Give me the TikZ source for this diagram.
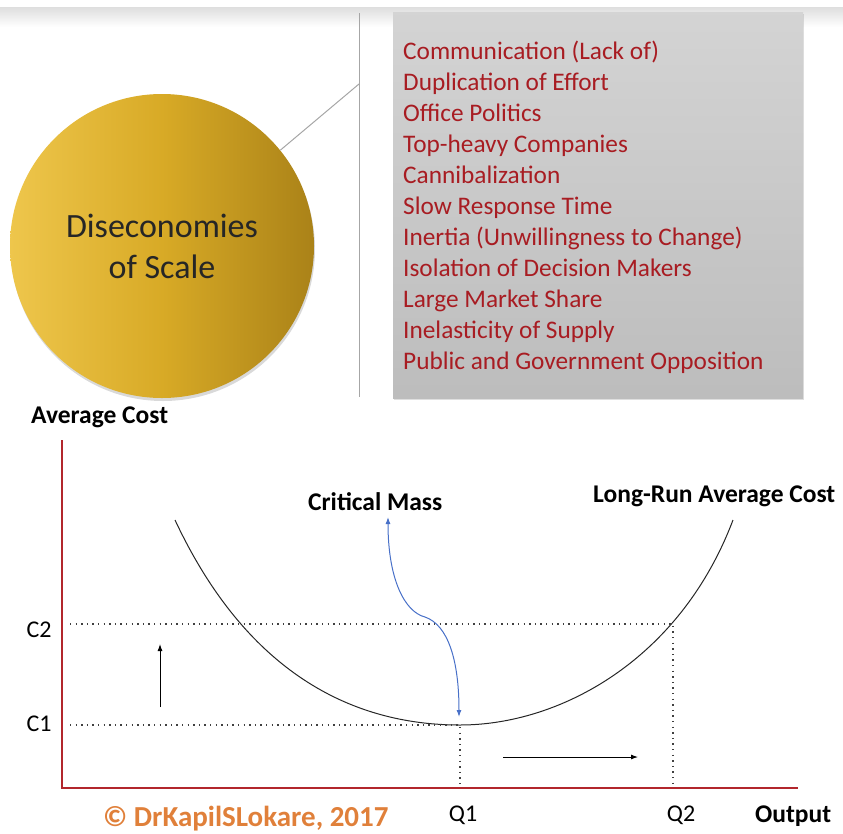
\documentclass[tikz,border=0pt]{standalone}
\usepackage{fontspec}
\setmainfont{Carlito}
\usetikzlibrary{arrows.meta,shadows}
\definecolor{causered}{RGB}{168,28,34}
\definecolor{axisred}{RGB}{178,38,44}
\definecolor{critblue}{RGB}{72,112,200}
\definecolor{signorange}{RGB}{224,128,58}
\definecolor{goldlight}{RGB}{238,198,76}
\definecolor{goldmid}{RGB}{216,170,38}
\definecolor{golddark}{RGB}{170,130,24}
\begin{document}
\begin{tikzpicture}[x=1pt,y=-1pt,
	disc/.style={circle,minimum size=304pt,inner sep=0pt,align=center,text=black!85,
		left color=goldlight,right color=golddark,middle color=goldmid,
		drop shadow={shadow xshift=1pt,shadow yshift=-3pt,opacity=0.3},
		font=\fontsize{34}{41}\selectfont},
	causebox/.style={rectangle,minimum width=410pt,minimum height=386pt,inner sep=0pt,
		top color=black!17,bottom color=black!26,
		drop shadow={shadow xshift=1pt,shadow yshift=-2pt,opacity=0.25}},
	listitem/.style={anchor=base west,inner sep=0pt,text=causered,font=\fontsize{25.3}{30}\selectfont},
	axislabel/.style={inner sep=0pt,font=\bfseries\fontsize{25.5}{29}\selectfont},
	ticklabel/.style={inner sep=0pt,font=\fontsize{24}{28}\selectfont},
	divider/.style={line width=1pt,black!35},
	guide/.style={line width=1.4pt,dash pattern=on 1.3pt off 4.3pt,black!75},
	axisline/.style={line width=2pt,axisred},
	trend/.style={line width=0.9pt,-{Latex[length=7pt,width=5pt]}}]
	\useasboundingbox (0,0) rectangle (843,833);
	% top band
	\shade[top color=black!13,bottom color=white] (0,7) rectangle (843,27);
	% divider and causes
	\coordinate (dtop) at (359,13);
	\coordinate (dbot) at (359,397);
	\coordinate (split) at (359,84);
	\draw[divider] (dtop) -- (dbot);
	\node[causebox] (causes) at (598,205) {};
	\foreach \txt [count=\i] in {Communication (Lack of),Duplication of Effort,Office Politics,
		Top-heavy Companies,Cannibalization,Slow Response Time,Inertia (Unwillingness to Change),
		Isolation of Decision Makers,Large Market Share,Inelasticity of Supply,
		Public and Government Opposition}
	\node[listitem] (cause\i) at (403,28+31*\i) {\txt};
	% circle
	\node[disc] (disc) at (162,246) {Diseconomies\\of Scale};
	\draw[divider] (disc.39) -- (split);
	% axis
	\coordinate (ytop) at (62,440);
	\coordinate (origin) at (62,788);
	\coordinate (xend) at (798,788);
	\draw[axisline] (ytop) -- (origin) -- (xend);
	\node[axislabel,anchor=base west] (avgcost) at (31,423) {Average Cost};
	\node[axislabel,anchor=base west] (output) at (755,822) {Output};
	% curve
	\coordinate (lrtop) at (175,520);
	\coordinate (lrmin) at (460,725);
	\coordinate (lrend) at (733,520);
	\draw[line width=1pt,black!85] (lrtop) .. controls (250,680) and (360,725) .. (lrmin)
		.. controls (560,725) and (680,660) .. (lrend);
	\node[axislabel,anchor=base west] (lrac) at (593,502) {Long-Run Average Cost};
	% levels
	\coordinate (c2a) at (70,624);
	\coordinate (c2b) at (673,624);
	\coordinate (c1a) at (70,725);
	\coordinate (q1) at (460,787);
	\coordinate (q2) at (673,787);
	\draw[guide] (c2a) -- (c2b) -- (q2);
	\draw[guide] (c1a) -- (lrmin) -- (q1);
	\node[ticklabel,anchor=base] (c2) at (39,637) {C2};
	\node[ticklabel,anchor=base] (c1) at (39,731) {C1};
	\node[ticklabel,anchor=base] (q1lab) at (463,821) {Q1};
	\node[ticklabel,anchor=base] (q2lab) at (681,821) {Q2};
	% arrows
	\coordinate (upa) at (160,707);
	\coordinate (upb) at (160,644);
	\coordinate (rta) at (503,757);
	\coordinate (rtb) at (638,757);
	\draw[trend] (upa) -- (upb);
	\draw[trend] (rta) -- (rtb);
	% critical mass
	\node[axislabel,anchor=base west] (crit) at (308,510) {Critical Mass};
	\coordinate (crittip) at (388,517);
	\coordinate (mintip) at (459,717);
	\draw[critblue,line width=1pt,{Latex[length=7pt,width=5pt]}-{Latex[length=7pt,width=5pt]}]
		(crittip) .. controls (388,580) and (405,612) .. (425,617)
		.. controls (448,625) and (459,660) .. (mintip);
	% sign
	\node[inner sep=0pt,anchor=base west,text=signorange,font=\bfseries\fontsize{29}{32}\selectfont]
		(sign) at (103,826) {© DrKapilSLokare, 2017};
\end{tikzpicture}
\end{document}
